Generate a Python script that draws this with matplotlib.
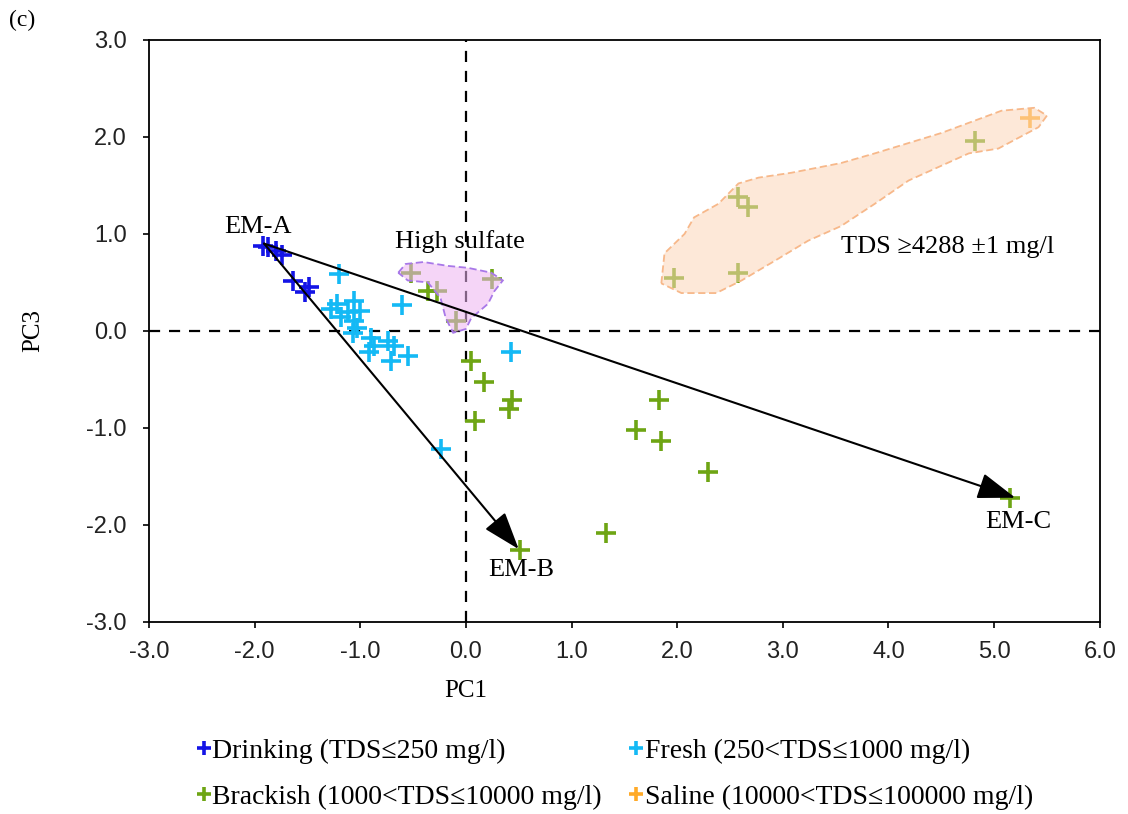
import matplotlib
matplotlib.use("Agg")
import matplotlib.pyplot as plt
from matplotlib.patches import Polygon, FancyArrowPatch

plt.rcParams['font.family'] = ['Liberation Serif', 'DejaVu Serif']

# PCA scores (PC1, PC3) per water type
drink_x = [-1.92, -1.87, -1.80, -1.74, -1.64, -1.52, -1.48]
drink_y = [0.88, 0.86, 0.82, 0.78, 0.51, 0.40, 0.45]

fresh_x = [-1.20, -0.60, -1.28, -1.22, -1.06, -1.12, -1.00, -1.18, -1.06, -1.03,
           -1.07, -0.90, -0.74, -0.87, -0.92, -0.68, -0.71, -0.55, 0.43, -0.24]
fresh_y = [0.59, 0.27, 0.23, 0.28, 0.31, 0.19, 0.21, 0.14, 0.10, 0.03,
           -0.02, -0.07, -0.10, -0.16, -0.22, -0.16, -0.31, -0.26, -0.22, -1.22]

brack_x = [-0.52, -0.36, -0.27, 0.25, -0.09, 0.05, 0.17, 0.44, 0.41, 0.09,
           1.83, 1.61, 1.85, 2.29, 1.33, 0.51, 5.15, 4.82, 2.58, 2.67, 1.97, 2.58]
brack_y = [0.60, 0.41, 0.41, 0.53, 0.10, -0.31, -0.53, -0.71, -0.81, -0.93,
           -0.71, -1.02, -1.14, -1.45, -2.08, -2.26, -1.72, 1.96, 1.38, 1.28, 0.55, 0.60]

saline_x = [5.34]
saline_y = [2.19]

# end-members
em_names = ['EM-A', 'EM-B', 'EM-C']
em_x = [-1.91, 0.50, 5.20]
em_y = [0.90, -2.25, -1.72]

# outlines of the highlighted groups
sulfate_x = [-0.64, -0.57, -0.40, -0.17, 0.02, 0.24, 0.35, 0.27, 0.21, 0.05,
             0.00, -0.12, -0.19, -0.24, -0.36, -0.55]
sulfate_y = [0.60, 0.69, 0.71, 0.67, 0.65, 0.60, 0.52, 0.41, 0.28, 0.13,
             0.02, -0.02, 0.13, 0.34, 0.50, 0.52]

tds_x = [1.85, 1.88, 2.07, 2.16, 2.39, 2.58, 2.77, 3.08, 3.55, 3.87, 4.50, 5.07,
         5.38, 5.50, 5.42, 5.04, 4.76, 4.19, 3.87, 3.55, 3.24, 2.92, 2.61, 2.37, 2.04]
tds_y = [0.49, 0.80, 1.00, 1.17, 1.31, 1.52, 1.58, 1.63, 1.73, 1.83, 2.04, 2.27,
         2.30, 2.22, 2.10, 1.88, 1.83, 1.55, 1.31, 1.08, 0.93, 0.72, 0.52, 0.39, 0.39]

fig = plt.figure(figsize=(11.28, 8.14), dpi=100)
ax = fig.add_axes([0.132, 0.236, 0.843, 0.715])

mk = dict(marker='+', linestyle='none', markersize=14, markeredgewidth=2.6)
h_dr, = ax.plot(drink_x, drink_y, color='#1414e6', label='Drinking (TDS≤250 mg/l)', **mk)
h_fr, = ax.plot(fresh_x, fresh_y, color='#14b9f5', label='Fresh (250<TDS≤1000 mg/l)', **mk)
h_br, = ax.plot(brack_x, brack_y, color='#6ea514', label='Brackish (1000<TDS≤10000 mg/l)', **mk)
h_sa, = ax.plot(saline_x, saline_y, color='#ffaa28', label='Saline (10000<TDS≤100000 mg/l)', **mk)

# shaded groups drawn over the points
ax.add_patch(Polygon(list(zip(sulfate_x, sulfate_y)), closed=True,
                     facecolor=(0.93, 0.70, 0.95, 0.55), edgecolor='#a878e8',
                     linestyle=(0, (4, 2)), linewidth=1.3, zorder=4))
ax.add_patch(Polygon(list(zip(tds_x, tds_y)), closed=True,
                     facecolor=(0.99, 0.84, 0.72, 0.55), edgecolor='#f7b88a',
                     linestyle=(0, (4, 2)), linewidth=1.3, zorder=4))

ax.axhline(0, color='black', linestyle=(0, (5, 4)), linewidth=1.6, zorder=1)
ax.axvline(0, color='black', linestyle=(0, (5, 4)), linewidth=1.6, zorder=1)

# mixing arrows
for i in (1, 2):
    ax.add_patch(FancyArrowPatch((em_x[0], em_y[0]), (em_x[i], em_y[i]),
                                 arrowstyle='-|>,head_length=1.3,head_width=0.45',
                                 mutation_scale=18, color='black',
                                 linewidth=1.5, shrinkA=0, shrinkB=0, zorder=5))

fs = 19
ax.text(-1.97, 1.07, em_names[0], fontsize=fs, ha='center', va='center')
ax.text(0.52, -2.46, em_names[1], fontsize=fs, ha='center', va='center')
ax.text(5.23, -1.97, em_names[2], fontsize=fs, ha='center', va='center')
ax.text(-0.06, 0.92, 'High sulfate', fontsize=fs, ha='center', va='center')
ax.text(4.56, 0.86, 'TDS ≥4288 ±1 mg/l', fontsize=fs, ha='center', va='center')

ax.set_xlim(-3, 6)
ax.set_ylim(-3, 3)
ax.set_xticks([-3, -2, -1, 0, 1, 2, 3, 4, 5, 6])
ax.set_yticks([-3, -2, -1, 0, 1, 2, 3])
ax.xaxis.set_major_formatter(plt.FormatStrFormatter('%.1f'))
ax.yaxis.set_major_formatter(plt.FormatStrFormatter('%.1f'))
ax.tick_params(direction='out', length=4, width=1.2, labelsize=17,
               labelcolor='#222222')
ax.tick_params(axis='x', pad=10)
ax.tick_params(axis='y', pad=12)
for lab in ax.get_xticklabels() + ax.get_yticklabels():
    lab.set_family(['Liberation Sans', 'DejaVu Sans'])
for s in ax.spines.values():
    s.set_linewidth(1.3)
ax.set_xlabel('PC1', fontsize=18, labelpad=14)
ax.xaxis.set_label_coords(3 / 9, -0.10)
ax.set_ylabel('PC3', fontsize=18, labelpad=30)

fig.text(0.008, 0.975, '(c)', fontsize=17, ha='left', va='center')

# row-wise order: Drinking, Fresh / Brackish, Saline
fig.legend([h_dr, h_br, h_fr, h_sa],
           [h_dr.get_label(), h_br.get_label(), h_fr.get_label(), h_sa.get_label()],
           loc='center', bbox_to_anchor=(0.545, 0.049), ncol=2, frameon=False,
           fontsize=20, handlelength=0.5, handletextpad=0.05, columnspacing=1.0,
           labelspacing=0.75, markerscale=0.7)

fig.savefig('out.png', dpi=100)
